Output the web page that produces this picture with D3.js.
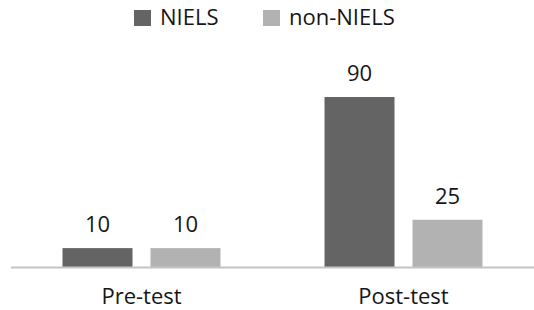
<!DOCTYPE html>
<html><head><meta charset="utf-8">
<script src="https://cdn.jsdelivr.net/npm/d3@7/dist/d3.min.js"></script>
<style>body{margin:0;background:#fff}svg{display:block}</style>
</head><body>
<svg id="c" width="534" height="310"></svg>
<script>
const categories = ["Pre-test", "Post-test"];
const seriesNames = ["NIELS", "non-NIELS"];
const niels = [10, 90];
const nonNiels = [10, 25];
const colors = ["#646464", "#b2b2b2"];

const seriesValues = [niels, nonNiels];
const svg = d3.select("#c");
const font = "'Open Sans', sans-serif";
const fs = 22;
const textColor = "#161616";

const x0 = d3.scaleBand().domain(categories).range([10.5, 534.5]).paddingInner(0).paddingOuter(0);
const x1 = d3.scaleBand().domain(seriesNames).range([0, x0.bandwidth()]).paddingInner(0.2045).paddingOuter(0.591);
const y = d3.scaleLinear().domain([0, 90]).range([267, 97]);

const data = [];
categories.forEach((c, i) => seriesNames.forEach((s, j) => data.push({c, s, v: seriesValues[j][i], color: colors[j]})));

svg.selectAll("rect.bar").data(data).join("rect").attr("class", "bar")
  .attr("x", d => x0(d.c) + x1(d.s))
  .attr("width", x1.bandwidth())
  .attr("y", d => y(d.v))
  .attr("height", d => y(0) - y(d.v))
  .attr("fill", d => d.color);

// axis line
svg.append("line").attr("x1", 11).attr("x2", 534).attr("y1", y(0) + 0.5).attr("y2", y(0) + 0.5)
  .attr("stroke", "#c4c4c4").attr("stroke-width", 2);

svg.selectAll("text.val").data(data).join("text").attr("class", "val")
  .attr("x", d => x0(d.c) + x1(d.s) + x1.bandwidth() / 2)
  .attr("y", d => y(d.v) - 16)
  .attr("text-anchor", "middle")
  .attr("font-family", font).attr("font-size", fs).attr("fill", textColor)
  .text(d => d.v);

const xAxis = d3.axisBottom(x0).tickSize(0).tickPadding(0);
const gx = svg.append("g").attr("transform", `translate(0,${y(0)})`).call(xAxis);
gx.select(".domain").remove();
gx.selectAll("text").attr("font-family", font).attr("font-size", fs).attr("fill", textColor)
  .attr("dy", null).attr("y", 36.5);

// legend
const legX = [134, 263];
const leg = svg.selectAll("g.leg").data(seriesNames).join("g").attr("class", "leg")
  .attr("transform", (d, i) => `translate(${legX[i]},10)`);
leg.append("rect").attr("width", 17).attr("height", 16).attr("fill", (d, i) => colors[i]);
leg.append("text").attr("x", 26).attr("y", 15)
  .attr("font-family", font).attr("font-size", fs).attr("fill", textColor)
  .text(d => d);
</script>
</body></html>
